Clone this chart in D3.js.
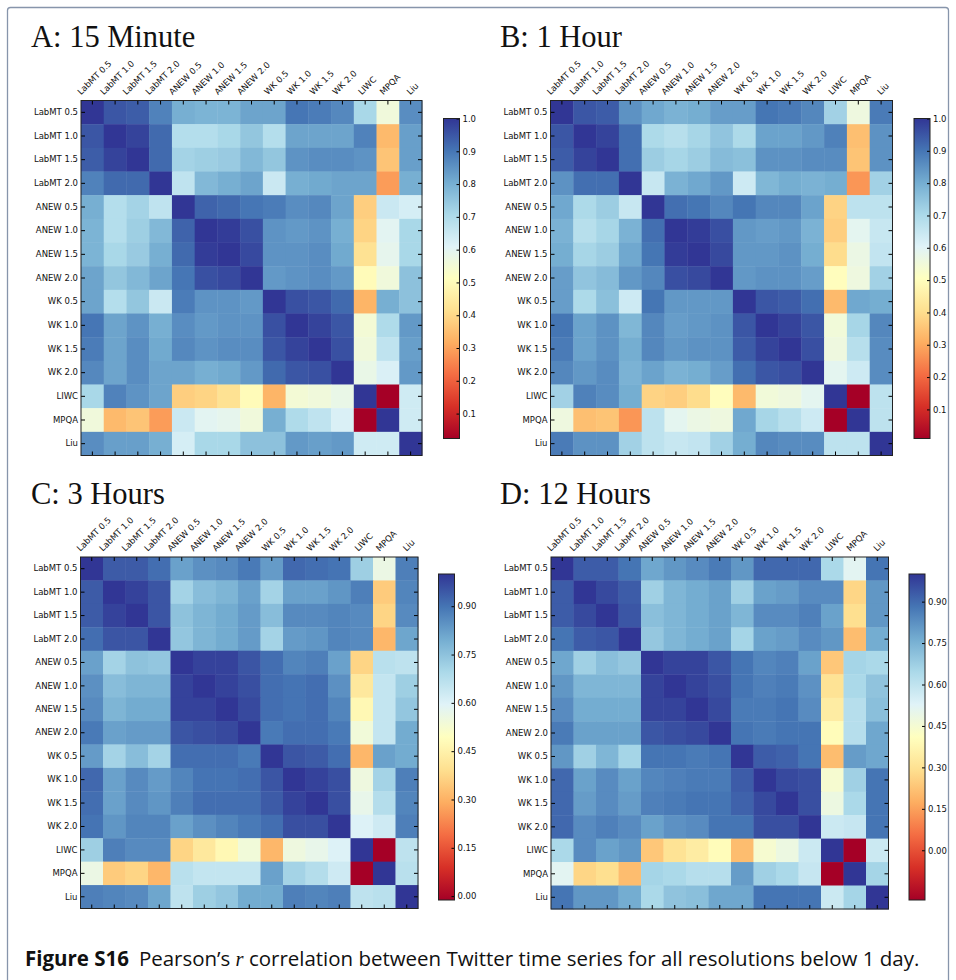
<!DOCTYPE html>
<html>
<head>
<meta charset="utf-8">
<script src="https://cdn.jsdelivr.net/npm/d3@7"></script>
<style>
  body { margin: 0; background: #fff; }
  svg { display: block; }
</style>
</head>
<body>
<svg id="fig" width="956" height="980"></svg>
<script>
"use strict";

// Noms des séries (lignes et colonnes)
const labels = ["LabMT 0.5", "LabMT 1.0", "LabMT 1.5", "LabMT 2.0",
  "ANEW 0.5", "ANEW 1.0", "ANEW 1.5", "ANEW 2.0",
  "WK 0.5", "WK 1.0", "WK 1.5", "WK 2.0", "LIWC", "MPQA", "Liu"];

// Triangle inférieur des matrices de corrélation (la diagonale vaut 1)
const corr15min = [
  [],
  [0.95],
  [0.94, 0.98],
  [0.88, 0.92, 0.92],
  [0.80, 0.69, 0.72, 0.67],
  [0.79, 0.69, 0.73, 0.78, 0.93],
  [0.79, 0.71, 0.74, 0.80, 0.92, 0.99],
  [0.82, 0.75, 0.78, 0.82, 0.90, 0.96, 0.97],
  [0.82, 0.69, 0.75, 0.65, 0.89, 0.85, 0.85, 0.84],
  [0.90, 0.82, 0.85, 0.80, 0.86, 0.84, 0.85, 0.85, 0.96],
  [0.89, 0.82, 0.86, 0.81, 0.87, 0.85, 0.86, 0.86, 0.95, 0.98],
  [0.87, 0.82, 0.86, 0.82, 0.82, 0.80, 0.81, 0.84, 0.92, 0.95, 0.96],
  [0.71, 0.88, 0.85, 0.82, 0.38, 0.39, 0.42, 0.50, 0.33, 0.55, 0.56, 0.58],
  [0.56, 0.34, 0.36, 0.29, 0.65, 0.60, 0.59, 0.56, 0.80, 0.70, 0.67, 0.62, 0.024],
  [0.86, 0.83, 0.83, 0.80, 0.63, 0.71, 0.71, 0.76, 0.76, 0.84, 0.83, 0.84, 0.64, 0.64]
];

const corr1hour = [
  [],
  [0.95],
  [0.94, 0.98],
  [0.85, 0.91, 0.91],
  [0.81, 0.70, 0.73, 0.65],
  [0.79, 0.68, 0.71, 0.79, 0.91],
  [0.80, 0.71, 0.73, 0.81, 0.90, 0.99],
  [0.83, 0.75, 0.77, 0.84, 0.87, 0.96, 0.97],
  [0.83, 0.70, 0.76, 0.64, 0.90, 0.84, 0.84, 0.84],
  [0.90, 0.82, 0.85, 0.78, 0.87, 0.83, 0.84, 0.85, 0.95],
  [0.89, 0.82, 0.85, 0.80, 0.87, 0.84, 0.85, 0.85, 0.94, 0.98],
  [0.87, 0.84, 0.86, 0.79, 0.82, 0.79, 0.80, 0.83, 0.91, 0.95, 0.96],
  [0.72, 0.88, 0.86, 0.80, 0.38, 0.37, 0.40, 0.50, 0.33, 0.55, 0.56, 0.59],
  [0.56, 0.34, 0.35, 0.27, 0.67, 0.59, 0.57, 0.56, 0.81, 0.71, 0.68, 0.64, 0.01],
  [0.89, 0.85, 0.85, 0.72, 0.67, 0.65, 0.66, 0.72, 0.80, 0.87, 0.86, 0.86, 0.67, 0.67]
];

const corr3hours = [
  [],
  [0.94],
  [0.94, 0.98],
  [0.91, 0.95, 0.95],
  [0.82, 0.71, 0.75, 0.74],
  [0.85, 0.76, 0.78, 0.78, 0.98],
  [0.86, 0.78, 0.80, 0.80, 0.98, 0.98],
  [0.89, 0.82, 0.83, 0.83, 0.95, 0.96, 0.97],
  [0.83, 0.71, 0.76, 0.71, 0.91, 0.91, 0.91, 0.89],
  [0.92, 0.82, 0.86, 0.83, 0.87, 0.90, 0.90, 0.91, 0.95],
  [0.91, 0.82, 0.86, 0.84, 0.88, 0.91, 0.91, 0.91, 0.94, 0.98],
  [0.90, 0.84, 0.87, 0.87, 0.82, 0.85, 0.87, 0.89, 0.91, 0.96, 0.96],
  [0.72, 0.88, 0.86, 0.86, 0.37, 0.42, 0.47, 0.54, 0.31, 0.55, 0.57, 0.60],
  [0.56, 0.35, 0.37, 0.31, 0.67, 0.65, 0.65, 0.65, 0.82, 0.71, 0.68, 0.63, -0.012],
  [0.88, 0.87, 0.86, 0.81, 0.66, 0.72, 0.74, 0.80, 0.80, 0.88, 0.87, 0.88, 0.66, 0.67]
];

const corr12hours = [
  [],
  [0.929],
  [0.929, 0.965],
  [0.882, 0.929, 0.941],
  [0.776, 0.670, 0.717, 0.693],
  [0.811, 0.740, 0.740, 0.740, 0.976],
  [0.835, 0.764, 0.764, 0.764, 0.976, 0.976],
  [0.870, 0.788, 0.788, 0.788, 0.941, 0.953, 0.965],
  [0.811, 0.670, 0.740, 0.658, 0.882, 0.882, 0.870, 0.882],
  [0.906, 0.788, 0.835, 0.788, 0.847, 0.858, 0.870, 0.870, 0.929],
  [0.906, 0.799, 0.835, 0.799, 0.858, 0.870, 0.882, 0.882, 0.917, 0.965],
  [0.906, 0.835, 0.858, 0.835, 0.788, 0.823, 0.835, 0.882, 0.882, 0.953, 0.953],
  [0.646, 0.835, 0.788, 0.811, 0.233, 0.304, 0.339, 0.398, 0.209, 0.445, 0.481, 0.575],
  [0.516, 0.268, 0.292, 0.209, 0.658, 0.646, 0.622, 0.622, 0.799, 0.670, 0.646, 0.587, -0.18],
  [0.882, 0.811, 0.811, 0.764, 0.646, 0.705, 0.717, 0.776, 0.776, 0.882, 0.882, 0.882, 0.575, 0.658]
];

// Graduations des barres de couleur
const ticksTenths = [0.1, 0.2, 0.3, 0.4, 0.5, 0.6, 0.7, 0.8, 0.9, 1.0];
const ticksFifteen = [0.00, 0.15, 0.30, 0.45, 0.60, 0.75, 0.90];

const titles = ["A: 15 Minute", "B: 1 Hour", "C: 3 Hours", "D: 12 Hours"];

// Disposition des quatre panneaux
const panels = [
  { title: titles[0], data: corr15min, ticks: ticksTenths, fmt: ".1f",
    tx: 31, ty: 47, heat: [81, 100.5, 341, 355], bar: [443.5, 118.5, 16, 320] },
  { title: titles[1], data: corr1hour, ticks: ticksTenths, fmt: ".1f",
    tx: 500, ty: 47, heat: [550.5, 100.5, 342, 355], bar: [914, 118.5, 16, 320] },
  { title: titles[2], data: corr3hours, ticks: ticksFifteen, fmt: ".2f",
    tx: 31, ty: 504, heat: [80.5, 557, 337.5, 351.5], bar: [438.5, 574, 16, 326] },
  { title: titles[3], data: corr12hours, ticks: ticksFifteen, fmt: ".2f",
    tx: 500, ty: 504, heat: [551, 557, 337.5, 352], bar: [909, 574, 16, 326] }
];

const rdylbu = d3.schemeRdYlBu[11];
const labelFont = "'DejaVu Sans', sans-serif";
const labelSize = 8.5;

const svg = d3.select("#fig");
const defs = svg.append("defs");

// cadre de la figure
svg.append("rect")
  .attr("x", 7.5).attr("y", 7.5)
  .attr("width", 941).attr("height", 1000)
  .attr("rx", 3)
  .attr("fill", "none")
  .attr("stroke", "#8795ab")
  .attr("stroke-width", 1.3);

function fullMatrix(lower) {
  const n = lower.length;
  const m = d3.range(n).map(() => new Array(n).fill(1));
  lower.forEach((row, i) => row.forEach((v, j) => { m[i][j] = v; m[j][i] = v; }));
  return m;
}

function drawPanel(p, idx) {
  const m = fullMatrix(p.data);
  const cells = [];
  m.forEach((row, i) => row.forEach((v, j) => cells.push({ i, j, v })));
  const ext = d3.extent(cells, d => d.v);

  const color = d3.scaleLinear()
    .domain(d3.range(11).map(k => ext[0] + k * (ext[1] - ext[0]) / 10))
    .range(rdylbu)
    .interpolate(d3.interpolateRgb);

  const [hx, hy, hw, hh] = p.heat;
  const x = d3.scaleBand().domain(labels).range([0, hw]);
  const y = d3.scaleBand().domain(labels).range([0, hh]);

  svg.append("text")
    .attr("x", p.tx).attr("y", p.ty)
    .attr("font-family", "'Liberation Serif', serif")
    .attr("font-size", 30.5)
    .attr("fill", "#111")
    .text(p.title);

  const g = svg.append("g").attr("transform", `translate(${hx},${hy})`);

  g.selectAll(".cell")
    .data(cells)
    .enter()
    .append("rect")
    .attr("class", "cell")
    .attr("x", d => x(labels[d.j]))
    .attr("y", d => y(labels[d.i]))
    .attr("width", x.bandwidth() + 0.4)
    .attr("height", y.bandwidth() + 0.4)
    .attr("fill", d => color(d.v));

  const styleAxis = a => {
    a.select(".domain").remove();
    a.attr("font-family", labelFont).attr("font-size", labelSize);
    a.selectAll(".tick line").attr("stroke", "#000");
    a.selectAll(".tick text").attr("fill", "#111");
  };

  const top = g.append("g").call(d3.axisTop(x).tickSize(-4).tickPadding(4)).call(styleAxis);
  top.selectAll(".tick text")
    .attr("text-anchor", "middle")
    .attr("dy", null)
    .attr("y", null)
    .attr("dominant-baseline", "central")
    .attr("transform", function () {
      const w = this.getComputedTextLength();
      const H = (w + labelSize * 1.1) * Math.SQRT1_2;
      return `translate(2,${-4 - H / 2}) rotate(-45)`;
    });

  g.append("g").call(d3.axisLeft(y).tickSize(-4).tickPadding(3)).call(styleAxis);
  g.append("g").attr("transform", `translate(0,${hh})`)
    .call(d3.axisBottom(x).tickSize(-4).tickFormat("")).call(styleAxis);
  g.append("g").attr("transform", `translate(${hw},0)`)
    .call(d3.axisRight(y).tickSize(-4).tickFormat("")).call(styleAxis);

  g.append("rect")
    .attr("width", hw).attr("height", hh)
    .attr("fill", "none").attr("stroke", "#222").attr("stroke-width", 1);

  // barre de couleur
  const [bx, by, bw, bh] = p.bar;
  const gradId = "grad" + idx;
  const grad = defs.append("linearGradient")
    .attr("id", gradId)
    .attr("x1", 0).attr("y1", 1).attr("x2", 0).attr("y2", 0);
  grad.selectAll("stop")
    .data(rdylbu)
    .enter()
    .append("stop")
    .attr("offset", (d, k) => k / 10)
    .attr("stop-color", d => d);

  const cb = svg.append("g").attr("transform", `translate(${bx},${by})`);
  cb.append("rect")
    .attr("width", bw).attr("height", bh)
    .attr("fill", `url(#${gradId})`);
  const yc = d3.scaleLinear().domain(ext).range([bh, 0]);
  cb.append("g").attr("transform", `translate(${bw},0)`)
    .call(d3.axisRight(yc).tickValues(p.ticks).tickSize(-3).tickPadding(3).tickFormat(d3.format(p.fmt)))
    .call(styleAxis);
  cb.append("rect")
    .attr("width", bw).attr("height", bh)
    .attr("fill", "none").attr("stroke", "#222").attr("stroke-width", 1);
}

panels.forEach(drawPanel);

// légende de la figure, ajustée à la largeur de l'original
const capSize = 18;
const cap = svg.append("text")
  .attr("x", 25).attr("y", 966)
  .attr("font-family", "'Open Sans', sans-serif")
  .attr("font-size", capSize)
  .attr("fill", "#111");
cap.append("tspan").attr("font-weight", "bold").text("Figure S16");
cap.append("tspan").attr("dx", 10).text("Pearson\u2019s ");
cap.append("tspan").attr("font-family", "'Liberation Serif', serif").attr("font-style", "italic").text("r");
cap.append("tspan").text(" correlation between Twitter time series for all resolutions below 1 day.");
const capW = cap.node().getBBox().width;
cap.attr("font-size", capSize * 896 / capW);
</script>
</body>
</html>
